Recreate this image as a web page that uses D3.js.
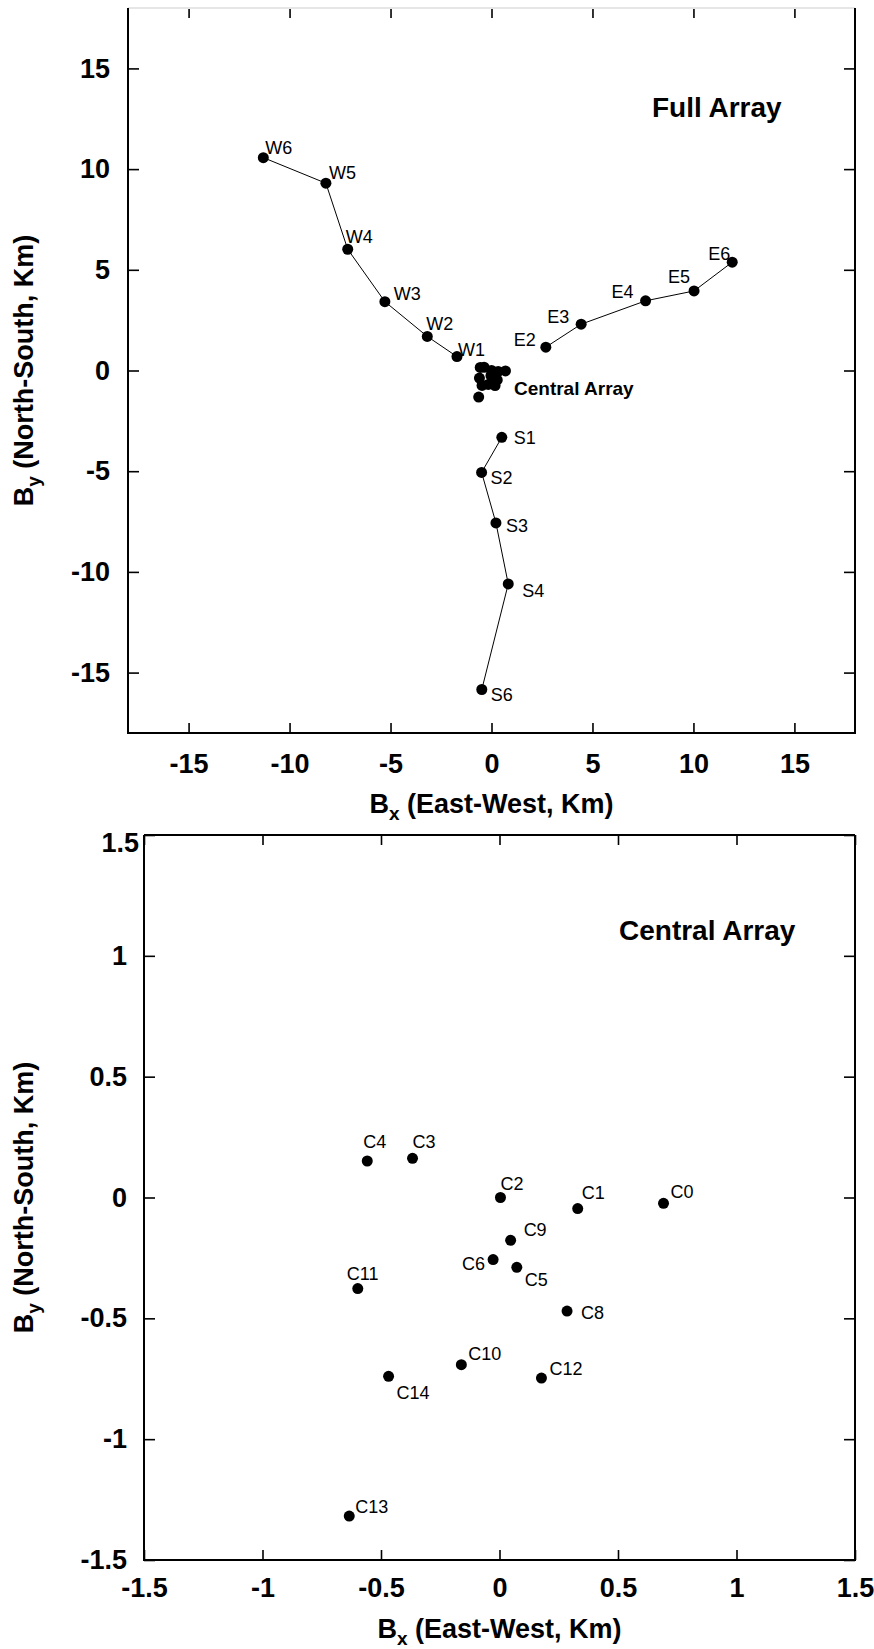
<!DOCTYPE html>
<html>
<head>
<meta charset="utf-8">
<script src="https://cdn.jsdelivr.net/npm/d3@7"></script>
<style>
  html, body { margin: 0; padding: 0; background: #fff; }
  svg { display: block; }
  text { font-family: "Liberation Sans", Arial, Helvetica, sans-serif; }
</style>
</head>
<body>
<div id="chart"></div>
<script>
// ---------- data ----------
const westNames = ["W1", "W2", "W3", "W4", "W5", "W6"];
const westX = [-1.71, -3.18, -5.28, -7.12, -8.20, -11.30];
const westY = [0.69, 1.69, 3.42, 6.02, 9.30, 10.57];

const eastNames = ["E2", "E3", "E4", "E5", "E6"];
const eastX = [2.69, 4.44, 7.63, 10.03, 11.92];
const eastY = [1.16, 2.30, 3.46, 3.95, 5.38];

const southNames = ["S1", "S2", "S3", "S4", "S6"];
const southX = [0.51, -0.49, 0.22, 0.83, -0.48];
const southY = [-3.32, -5.06, -7.57, -10.60, -15.84];

const centralNames = ["C0", "C1", "C2", "C3", "C4", "C5", "C6", "C8", "C9", "C10", "C11", "C12", "C13", "C14"];
const centralX = [0.692, 0.330, 0.004, -0.367, -0.558, 0.073, -0.027, 0.285, 0.047, -0.161, -0.598, 0.177, -0.634, -0.468];
const centralY = [-0.024, -0.046, 0.000, 0.162, 0.151, -0.289, -0.257, -0.470, -0.177, -0.692, -0.377, -0.747, -1.318, -0.740];

const fullTicks = [-15, -10, -5, 0, 5, 10, 15];
const centralTicks = [-1.5, -1, -0.5, 0, 0.5, 1, 1.5];

// ---------- layout (label placement relative to the marker) ----------
const labelPlace = {
  W6: [2, -4, "start"], W5: [3, -4, "start"], W4: [-2, -6, "start"], W3: [9, -2, "start"],
  W2: [-1, -6, "start"], W1: [1, -1, "start"],
  E2: [-10, -1, "end"], E3: [-12, -1, "end"], E4: [-12, -3, "end"], E5: [-4, -8, "end"], E6: [-2, -2, "end"],
  S1: [12, 7, "start"], S2: [9, 12, "start"], S3: [10, 9, "start"], S4: [14, 13, "start"], S6: [9, 11, "start"],
  C0: [7, -5, "start"], C1: [4, -10, "start"], C2: [0, -8, "start"], C3: [0, -10, "start"],
  C4: [-4, -13, "start"], C5: [8, 19, "start"], C6: [-8, 10, "end"], C8: [14, 8, "start"],
  C9: [13, -4, "start"], C10: [7, -5, "start"], C11: [-11, -9, "start"], C12: [8, -3, "start"],
  C13: [6, -3, "start"], C14: [8, 23, "start"]
};

const W = 874, H = 1649;
const svg = d3.select("#chart").append("svg").attr("width", W).attr("height", H);

const zip = (names, xs, ys) => names.map((n, i) => ({ name: n, x: xs[i], y: ys[i] }));
const west = zip(westNames, westX, westY);
const east = zip(eastNames, eastX, eastY);
const south = zip(southNames, southX, southY);
const central = zip(centralNames, centralX, centralY);

const fmt = d => String(d);

function drawPanel(cfg) {
  const { x, y, ticks, xPad, yPad, topColor } = cfg;
  const [x0, x1] = x.range();
  const [y1, y0] = y.range();
  const g = svg.append("g");

  const axB = g.append("g").attr("transform", `translate(0,${y1})`)
    .call(d3.axisBottom(x).tickValues(ticks).tickFormat(fmt).tickSize(-10).tickPadding(xPad));
  const axL = g.append("g").attr("class", "yaxis").attr("transform", `translate(${x0},0)`)
    .call(d3.axisLeft(y).tickValues(ticks).tickFormat(fmt).tickSize(-11).tickPadding(yPad));
  const axT = g.append("g").attr("transform", `translate(0,${y0})`)
    .call(d3.axisTop(x).tickValues(ticks).tickFormat("").tickSize(-10));
  const axR = g.append("g").attr("transform", `translate(${x1},0)`)
    .call(d3.axisRight(y).tickValues(ticks).tickFormat("").tickSize(-11));
  [axB, axL, axT, axR].forEach(a => {
    a.select(".domain").remove();
    a.selectAll(".tick line").attr("stroke", "#000").attr("stroke-width", 1.6);
    a.selectAll(".tick text").attr("fill", "#000")
      .style("font-size", "27px").style("font-weight", "bold")
      .style("font-family", '"Liberation Sans", Arial, Helvetica, sans-serif');
  });

  // frame
  g.append("line").attr("x1", x0).attr("x2", x1).attr("y1", y0).attr("y2", y0)
    .attr("stroke", topColor).attr("stroke-width", 2);
  g.append("path").attr("d", `M${x0},${y0}V${y1}H${x1}V${y0}`)
    .attr("fill", "none").attr("stroke", "#000").attr("stroke-width", 2);

  // axis titles
  const cx = (x0 + x1) / 2, cy = (y0 + y1) / 2;
  const tx = g.append("text").attr("x", cx).attr("y", cfg.xTitleY).attr("text-anchor", "middle")
    .style("font-size", "27px").style("font-weight", "bold");
  tx.append("tspan").text("B");
  tx.append("tspan").text("x").style("font-size", "19px").attr("dy", 7);
  tx.append("tspan").text(" (East-West, Km)").attr("dy", -7);

  const ty = g.append("text").attr("transform", `translate(33,${cy}) rotate(-90)`)
    .attr("text-anchor", "middle").style("font-size", "27px").style("font-weight", "bold");
  ty.append("tspan").text("B");
  ty.append("tspan").text("y").style("font-size", "19px").attr("dy", 7);
  ty.append("tspan").text(" (North-South, Km)").attr("dy", -7);
  return g;
}

function drawArm(g, x, y, pts, line) {
  if (line) {
    g.append("path").datum(pts)
      .attr("d", d3.line().x(d => x(d.x)).y(d => y(d.y)))
      .attr("fill", "none").attr("stroke", "#000").attr("stroke-width", 1);
  }
  g.selectAll(null).data(pts).enter().append("circle")
    .attr("cx", d => x(d.x)).attr("cy", d => y(d.y)).attr("r", 5.5).attr("fill", "#000");
}

function drawLabels(g, x, y, pts) {
  g.selectAll(null).data(pts).enter().append("text")
    .attr("x", d => x(d.x) + labelPlace[d.name][0])
    .attr("y", d => y(d.y) + labelPlace[d.name][1])
    .attr("text-anchor", d => labelPlace[d.name][2])
    .style("font-size", "18px").attr("fill", "#000")
    .text(d => d.name);
}

// ---------- panel 1 : full array ----------
const xa = d3.scaleLinear().domain([-18, 18]).range([128, 855]);
const ya = d3.scaleLinear().domain([-18, 18]).range([733, 8]);
const g1 = drawPanel({ x: xa, y: ya, ticks: fullTicks, xPad: 21, yPad: 18, topColor: "#e6e6e6", xTitleY: 813 });
drawArm(g1, xa, ya, west, true);
drawArm(g1, xa, ya, east, true);
drawArm(g1, xa, ya, south, true);
drawArm(g1, xa, ya, central, false);
drawLabels(g1, xa, ya, west.concat(east, south));
g1.append("text").attr("x", 652).attr("y", 117).style("font-size", "28px").style("font-weight", "bold").text("Full Array");
g1.append("text").attr("x", 514).attr("y", 395).style("font-size", "19px").style("font-weight", "bold").text("Central Array");

// ---------- panel 2 : central array ----------
const xb = d3.scaleLinear().domain([-1.5, 1.5]).range([144, 855]);
const yb = d3.scaleLinear().domain([-1.5, 1.5]).range([1560, 835]);
const g2 = drawPanel({ x: xb, y: yb, ticks: centralTicks, xPad: 18, yPad: 17, topColor: "#000", xTitleY: 1638 });
drawArm(g2, xb, yb, central, false);
drawLabels(g2, xb, yb, central);
g2.append("text").attr("x", 619).attr("y", 940).style("font-size", "28px").style("font-weight", "bold").text("Central Array");
// the top y tick label sits slightly inside/below its tick in the original
g2.select(".yaxis").selectAll(".tick text").filter(d => d === 1.5)
  .attr("dx", 12).attr("dy", "0.62em");
</script>
</body>
</html>
